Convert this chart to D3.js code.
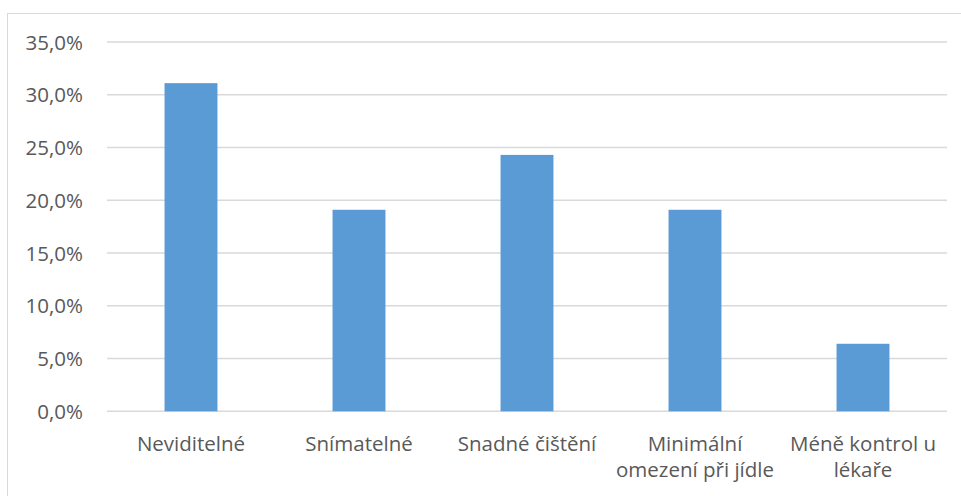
<!DOCTYPE html>
<html>
<head>
<meta charset="utf-8">
<script src="https://cdn.jsdelivr.net/npm/d3@7"></script>
<style>
  body { margin: 0; background: #fff; }
  svg text { font-family: "Open Sans", "Noto Sans", sans-serif; fill: #595959; }
</style>
</head>
<body>
<svg id="chart" width="961" height="496"></svg>
<script>
// chart data
var categories = [
  ["Neviditelné"],
  ["Snímatelné"],
  ["Snadné čištění"],
  ["Minimální", "omezení při jídle"],
  ["Méně kontrol u", "lékaře"]
];
var values = [31.1, 19.1, 24.3, 19.1, 6.4];
var yTicks = [0, 5, 10, 15, 20, 25, 30, 35];

var margin = { top: 42, left: 107, right: 14, bottom: 85 };
var width = 961, height = 496;

var svg = d3.select('#chart');

// outer chart border (cut off at right / bottom like the screenshot)
svg.append('rect')
  .attr('x', 7.5).attr('y', 13.5)
  .attr('width', 970).attr('height', 500)
  .attr('fill', 'none')
  .attr('stroke', '#d9d9d9')
  .attr('stroke-width', 1);

var x = d3.scaleBand()
  .domain(d3.range(categories.length))
  .range([margin.left, width - margin.right])
  .paddingInner(0.685)
  .paddingOuter(0.3425);

var y = d3.scaleLinear()
  .domain([0, 35])
  .range([411.3, margin.top]);

var fmt = function(v) { return v.toFixed(1).replace('.', ',') + '%'; };

// gridlines
svg.append('g').selectAll('line')
  .data(yTicks)
  .enter().append('line')
  .attr('x1', margin.left).attr('x2', width - margin.right)
  .attr('y1', function(d) { return y(d); })
  .attr('y2', function(d) { return y(d); })
  .attr('stroke', '#d9d9d9')
  .attr('stroke-width', 1.5);

// y tick labels
svg.append('g').selectAll('text')
  .data(yTicks)
  .enter().append('text')
  .attr('x', 83)
  .attr('y', function(d) { return y(d) + 7.5; })
  .attr('text-anchor', 'end')
  .style('font-size', '20.5px')
  .text(fmt);

// bars
svg.append('g').selectAll('rect')
  .data(values)
  .enter().append('rect')
  .attr('x', function(d, i) { return x(i); })
  .attr('width', x.bandwidth())
  .attr('y', function(d) { return y(d); })
  .attr('height', function(d) { return y(0) - y(d); })
  .attr('fill', '#5b9bd5');

// category labels
var labels = svg.append('g').selectAll('text')
  .data(categories)
  .enter().append('text')
  .attr('text-anchor', 'middle')
  .style('font-size', '20.5px');

labels.selectAll('tspan')
  .data(function(d, i) { return d.map(function(t) { return { t: t, i: i }; }); })
  .enter().append('tspan')
  .attr('x', function(d) { return x(d.i) + x.bandwidth() / 2; })
  .attr('y', function(d, j) { return 450.5 + j * 26.5; })
  .text(function(d) { return d.t; });
</script>
</body>
</html>
